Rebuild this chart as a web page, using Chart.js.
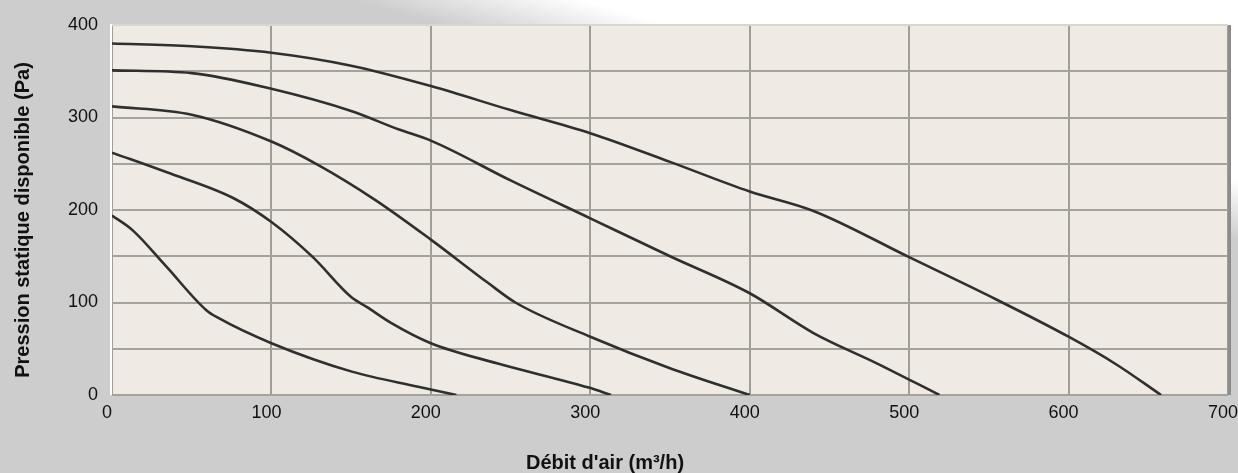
<!DOCTYPE html>
<html>
<head>
<meta charset="utf-8">
<script src="https://cdn.jsdelivr.net/npm/chart.js@4.4.0/dist/chart.umd.min.js"></script>
<style>
html,body{margin:0;padding:0;background:#cdcdcd;overflow:hidden;}
canvas{display:block;}
</style>
</head>
<body>
<canvas id="c" width="1238" height="473"></canvas>
<script>
// ---- data (airflow m³/h -> available static pressure Pa) ----
const curve1X = [0, 50, 100, 150, 200, 250, 300, 350, 400, 440, 500, 555, 600, 630, 658];
const curve1Y = [380, 377, 370, 356, 334, 308, 283, 252, 220, 199, 149, 103, 63, 33, 0];

const curve2X = [0, 50, 100, 150, 180, 200, 250, 300, 350, 400, 440, 480, 519];
const curve2Y = [351, 348, 331, 307, 287, 275, 232, 191, 150, 110, 67, 34, 0];

const curve3X = [0, 50, 100, 130, 165, 200, 236, 253, 300, 350, 400];
const curve3Y = [312, 303, 274, 248, 211, 168, 121, 100, 63, 29, 0];

const curve4X = [0, 34, 76, 100, 126, 150, 160, 175, 200, 242, 299, 313];
const curve4Y = [262, 241, 213, 187, 149, 106, 95, 78, 56, 34, 8, 0];

const curve5X = [0, 13, 34, 59, 67, 100, 151, 192, 216];
const curve5Y = [194, 178, 139, 92, 83, 56, 25, 9, 0];

const xTickValues = [0, 100, 200, 300, 400, 500, 600, 700];
const yTickLabels = [0, 100, 200, 300, 400];

const xTitle = "Débit d'air (m³/h)";
const yTitle = "Pression statique disponible (Pa)";

function pts(xs, ys){ return xs.map((x,i)=>({x:x, y:ys[i]})); }

const series = [[curve1X,curve1Y],[curve2X,curve2Y],[curve3X,curve3Y],[curve4X,curve4Y],[curve5X,curve5Y]];

const tickFont = {family: "'Liberation Sans', Arial, sans-serif", size: 18};

const bgPlugin = {
  id: 'bg',
  beforeDraw(chart){
    const ctx = chart.ctx, W = chart.width, H = chart.height, a = chart.chartArea;
    ctx.save();
    ctx.fillStyle = '#cdcdcd';
    ctx.fillRect(0,0,W,H);
    // white swoosh top-right
    const mx = 850, my = 105, nx = 0.263, ny = -0.964, d = 30;
    const g = ctx.createLinearGradient(mx - nx*d, my - ny*d, mx + nx*d, my + ny*d);
    g.addColorStop(0, 'rgba(255,255,255,0)');
    g.addColorStop(1, 'rgba(255,255,255,1)');
    ctx.fillStyle = g;
    ctx.fillRect(0,0,W,H);
    // plot background
    ctx.fillStyle = '#efebe4';
    ctx.fillRect(a.left, a.top, a.right - a.left, a.bottom - a.top);
    ctx.restore();
  },
  beforeDatasetsDraw(chart){
    const ctx = chart.ctx, a = chart.chartArea;
    ctx.save();
    ctx.strokeStyle = '#ffffff';
    ctx.lineWidth = 2;
    ctx.beginPath();
    ctx.moveTo(a.left - 1, a.bottom);
    ctx.lineTo(a.left - 1, a.top - 1);
    ctx.stroke();
    ctx.strokeStyle = '#d9d6d0';
    ctx.lineWidth = 2;
    ctx.beginPath();
    ctx.moveTo(a.left, a.top);
    ctx.lineTo(a.right, a.top);
    ctx.stroke();
    ctx.strokeStyle = '#8c8c8a';
    ctx.lineWidth = 3;
    ctx.beginPath();
    ctx.moveTo(a.right + 1.5, a.top);
    ctx.lineTo(a.right + 1.5, a.bottom);
    ctx.stroke();
    ctx.restore();
  },
  afterDraw(chart){
    const ctx = chart.ctx, a = chart.chartArea;
    ctx.save();
    ctx.fillStyle = '#111111';
    ctx.font = "bold 20px 'Liberation Sans', Arial, sans-serif";
    ctx.textAlign = 'center';
    ctx.textBaseline = 'middle';
    ctx.fillText(xTitle, a.left + 493, a.bottom + 68);
    ctx.translate(23, (a.top + a.bottom)/2 + 10);
    ctx.rotate(-Math.PI/2);
    ctx.fillText(yTitle, 0, 0);
    ctx.restore();
  }
};

new Chart(document.getElementById('c'), {
  type: 'scatter',
  data: {
    datasets: series.map((s, i) => ({
      label: 'Courbe ' + (i+1),
      data: pts(s[0], s[1]),
      showLine: true,
      borderColor: '#2f2f2f',
      borderWidth: 2.6,
      pointRadius: 0,
      fill: false,
      cubicInterpolationMode: 'monotone'
    }))
  },
  options: {
    responsive: false,
    animation: false,
    devicePixelRatio: 1,
    layout: {padding: {top: 25, right: 10, left: 0, bottom: 0}},
    plugins: {legend: {display: false}, tooltip: {enabled: false}},
    scales: {
      x: {
        type: 'linear', min: 0, max: 700,
        afterBuildTicks(scale){ scale.ticks = xTickValues.map(v => ({value: v})); },
        ticks: {font: tickFont, color: '#111', padding: 7, labelOffset: -5, maxRotation: 0, autoSkip: false},
        grid: {color: '#a19e98', lineWidth: 2, drawTicks: false},
        border: {display: false},
        afterFit(scale){ scale.height = 78; scale.paddingLeft = 0; scale.paddingRight = 0; }
      },
      y: {
        min: 0, max: 400,
        ticks: {stepSize: 50, font: tickFont, color: '#111', padding: 14,
          callback: v => yTickLabels.includes(v) ? String(v) : ''},
        grid: {color: '#a5a29c', lineWidth: 2, drawTicks: false},
        border: {display: false},
        afterFit(scale){ scale.width = 112; scale.paddingTop = 0; scale.paddingBottom = 0; }
      }
    }
  },
  plugins: [bgPlugin]
});
</script>
</body>
</html>
